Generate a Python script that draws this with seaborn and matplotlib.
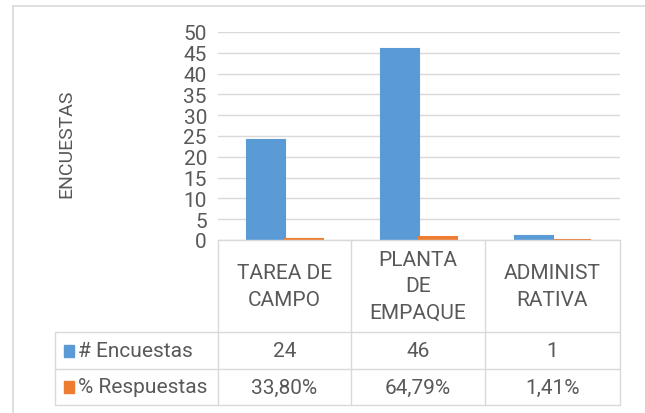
import matplotlib
matplotlib.use("Agg")
import matplotlib.pyplot as plt
import seaborn as sns
import pandas as pd

# Datos
categorias = ["TAREA DE\nCAMPO", "PLANTA\nDE\nEMPAQUE", "ADMINIST\nRATIVA"]
encuestas = [24, 46, 1]
respuestas = [0.3380, 0.6479, 0.0141]
series = ["# Encuestas", "% Respuestas"]
etiquetas_resp = ["33,80%", "64,79%", "1,41%"]
colores = ["#5B9BD5", "#ED7D31"]

sns.set_style("white")
plt.rcParams["font.family"] = ["Roboto", "DejaVu Sans"]

df = pd.DataFrame({
    "cat": categorias * 2,
    "serie": [series[0]] * 3 + [series[1]] * 3,
    "valor": encuestas + respuestas,
})

W, H = 645, 414
fig = plt.figure(figsize=(W / 100, H / 100), dpi=100)

def fx(px):
    return px / W

def fy(py):
    return 1 - py / H

x0, x1 = 218, 620
y0, y1 = 241, 33
ax = fig.add_axes([fx(x0), fy(y0), fx(x1) - fx(x0), fy(y1) - fy(y0)])
sns.barplot(data=df, x="cat", y="valor", hue="serie", palette=colores,
            saturation=1, width=0.57, ax=ax, legend=False)
# barras muy pequeñas: borde del mismo color para que se vean
for patch in ax.patches:
    patch.set_edgecolor(patch.get_facecolor())
    patch.set_linewidth(1.5)
ax.set_ylim(0, 50)
ax.set_xlim(-0.5, 2.5)
ax.set_yticks(range(0, 51, 5))
ax.tick_params(axis="y", labelsize=15, colors="#595959", length=0, pad=8)
ax.set_xticks([])
ax.set_xlabel("")
ax.set_ylabel("")
ax.grid(axis="y", color="#D9D9D9", linewidth=1)
ax.set_axisbelow(True)
for s in ax.spines.values():
    s.set_visible(False)

fig.text(fx(66), fy(144), "ENCUESTAS", rotation=90, ha="center", va="center",
         fontsize=14, color="#595959")

# Tabla de datos
gris = "#D9D9D9"
col_x = [218, 351, 485, 620]
row_y = [241, 333, 370, 406]
def hline(y, xa, xb):
    fig.add_artist(plt.Line2D([fx(xa), fx(xb)], [fy(y), fy(y)], color=gris, lw=1))
def vline(x, ya, yb):
    fig.add_artist(plt.Line2D([fx(x), fx(x)], [fy(ya), fy(yb)], color=gris, lw=1))

hline(row_y[0], col_x[0], col_x[-1])
for y in row_y[1:]:
    hline(y, 55, col_x[-1])
for x in col_x:
    vline(x, row_y[0], row_y[-1])
vline(55, row_y[1], row_y[-1])

txt = "#595959"
for i, c in enumerate(categorias):
    cx = (col_x[i] + col_x[i + 1]) / 2
    fig.text(fx(cx), fy((row_y[0] + row_y[1]) / 2), c, ha="center", va="center",
             fontsize=15, color=txt, linespacing=1.5)
    fig.text(fx(cx), fy((row_y[1] + row_y[2]) / 2), str(encuestas[i]),
             ha="center", va="center", fontsize=15, color=txt)
    fig.text(fx(cx), fy((row_y[2] + row_y[3]) / 2), etiquetas_resp[i],
             ha="center", va="center", fontsize=15, color=txt)

for j, s in enumerate(series):
    cy = (row_y[j + 1] + row_y[j + 2]) / 2
    fig.add_artist(plt.Rectangle((fx(64), fy(cy + 6)), fx(10), fy(0) - fy(12),
                                 color=colores[j]))
    fig.text(fx(78), fy(cy), s, ha="left", va="center", fontsize=15, color=txt)

# Marco exterior
fig.add_artist(plt.Line2D([fx(13), fx(13)], [fy(7), 0], color=gris, lw=1.2))
fig.add_artist(plt.Line2D([fx(13), 1], [fy(7), fy(7)], color=gris, lw=1.2))

fig.savefig("out.png", dpi=100)
